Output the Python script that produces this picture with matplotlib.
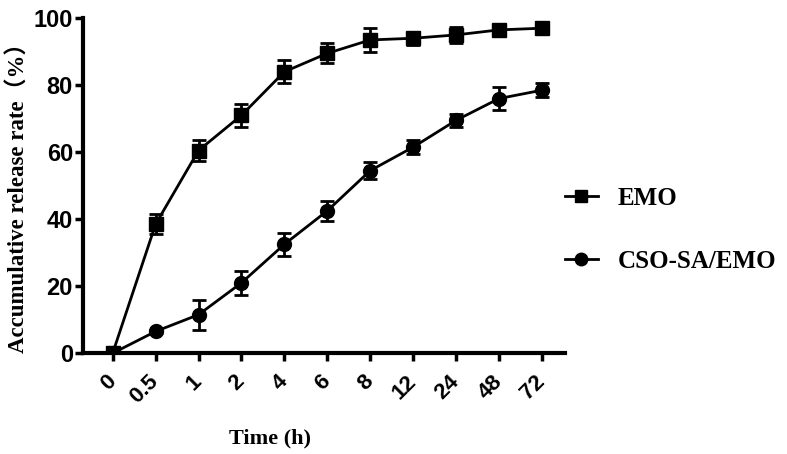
import numpy as np
import matplotlib.pyplot as plt
from matplotlib.lines import Line2D

# release data
time_labels = ['0', '0.5', '1', '2', '4', '6', '8', '12', '24', '48', '72']
emo = [0, 38.5, 60.5, 71, 84, 89.5, 93.5, 94, 95, 96.5, 97]
emo_err = [0.5, 3, 3, 3.5, 3.5, 3, 3.5, 2, 2.5, 1, 1.5]
cso = [0, 6.5, 11.5, 21, 32.5, 42.5, 54.5, 61.5, 69.5, 76, 78.5]
cso_err = [0.5, 0.5, 4.5, 3.5, 3.5, 3, 2.5, 2, 2, 3.5, 2]
series_names = ['EMO', 'CSO-SA/EMO']

serif = ['Liberation Serif', 'Noto Sans CJK SC']
sans = ['Liberation Sans Narrow', 'Liberation Sans']

fig = plt.figure(figsize=(7.87, 4.54), dpi=100)
ax = fig.add_axes([0.105, 0.222, 0.613, 0.738])

x = np.arange(len(time_labels))
ax.errorbar(x, emo, yerr=emo_err, color='black', marker='s', markersize=10,
            linewidth=2, elinewidth=2, capsize=5, capthick=2)
ax.errorbar(x, cso, yerr=cso_err, color='black', marker='o', markersize=10,
            linewidth=2, elinewidth=2, capsize=5, capthick=2)

ax.set_xlim(-0.7, 10.54)
ax.set_ylim(0, 100)
ax.set_xticks(x)
ax.set_xticklabels(time_labels, rotation=45, fontsize=16, fontweight='bold',
                   family=sans, ha='right', va='center',
                   rotation_mode='anchor')
ax.set_yticks([0, 20, 40, 60, 80, 100])
ax.set_yticklabels(['0', '20', '40', '60', '80', '100'], fontsize=17,
                   fontweight='bold', family=sans)

for side in ['top', 'right']:
    ax.spines[side].set_visible(False)
for side in ['left', 'bottom']:
    ax.spines[side].set_linewidth(3)
ax.tick_params(width=2.5, length=6, direction='out')
ax.tick_params(axis='y', pad=1)
ax.tick_params(axis='x', pad=12)

ax.set_xlabel('Time (h)', fontsize=16, fontweight='bold', family=serif)
ax.xaxis.set_label_coords(0.388, -0.225)
ax.set_ylabel('Accumulative release rate（%）', fontsize=16.5,
              fontweight='bold', family=serif)
ax.yaxis.set_label_coords(-0.11, 0.48)

handles = [Line2D([], [], color='black', marker='s', markersize=9, linewidth=2),
           Line2D([], [], color='black', marker='o', markersize=9, linewidth=2)]
ax.legend(handles, series_names, loc='center left',
          bbox_to_anchor=(1.0, 0.369), frameon=False,
          prop={'family': serif, 'weight': 'bold', 'size': 18},
          handlelength=1.3, handletextpad=0.8, labelspacing=1.6,
          borderpad=0, borderaxespad=0)

fig.savefig('out.png', dpi=100)
